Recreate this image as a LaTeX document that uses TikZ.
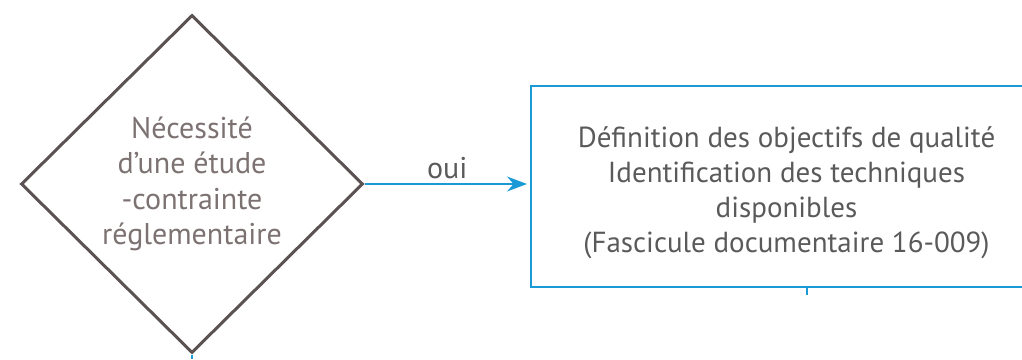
\documentclass[tikz,border=0pt]{standalone}
\usepackage{fontspec}
\setmainfont{PT Sans}
\usepackage{tikz}
\usetikzlibrary{shapes.geometric,arrows.meta,positioning}
\definecolor{diagray}{HTML}{5B5252}
\definecolor{diatext}{HTML}{7D7272}
\definecolor{boxtext}{HTML}{5A5A5A}
\definecolor{qblue}{HTML}{1C9AD6}
\tikzset{
  decision/.style={diamond,draw=diagray,line width=3pt,inner sep=0pt,
    minimum width=342pt,minimum height=338pt,text=diatext,align=center,
    font=\fontsize{30}{35.5}\selectfont},
  stepbox/.style={rectangle,draw=qblue,line width=2pt,
    minimum width=511pt,minimum height=201pt},
  steptext/.style={text=boxtext,align=center,inner sep=0pt,
    font=\fontsize{29}{35}\selectfont},
  link/.style={qblue,line width=1.5pt}
}
\begin{document}
\begin{tikzpicture}[x=1pt,y=1pt,>={Stealth[length=20pt,width=15pt]}]
\useasboundingbox (0,0) rectangle (1022,359);
\clip (0,0) rectangle (1022,359);
\node[decision] (need) at (192,175) {Nécessité\\d’une étude\\-contrainte\\réglementaire};
\node[stepbox] (quality) at (786.5,172.5) {};
\node[steptext] (qualitytext) at ([yshift=-6pt]quality.center) {Définition des objectifs de qualité\\Identification des techniques\\disponibles\\(Fascicule documentaire 16-009)};

% oui -> box
\draw[link,->,shorten >=3pt] (need.east) -- (need.east -| quality.west)
    node[midway,above=1pt,text=boxtext,font=\fontsize{30}{32}\selectfont] {oui};

% stubs below
\coordinate (stub) at (807,64);
\coordinate (down) at (192,0);
\draw[link] (quality.south -| stub) -- (stub);
\draw[link] (need.south) -- (down);
\end{tikzpicture}
\end{document}
